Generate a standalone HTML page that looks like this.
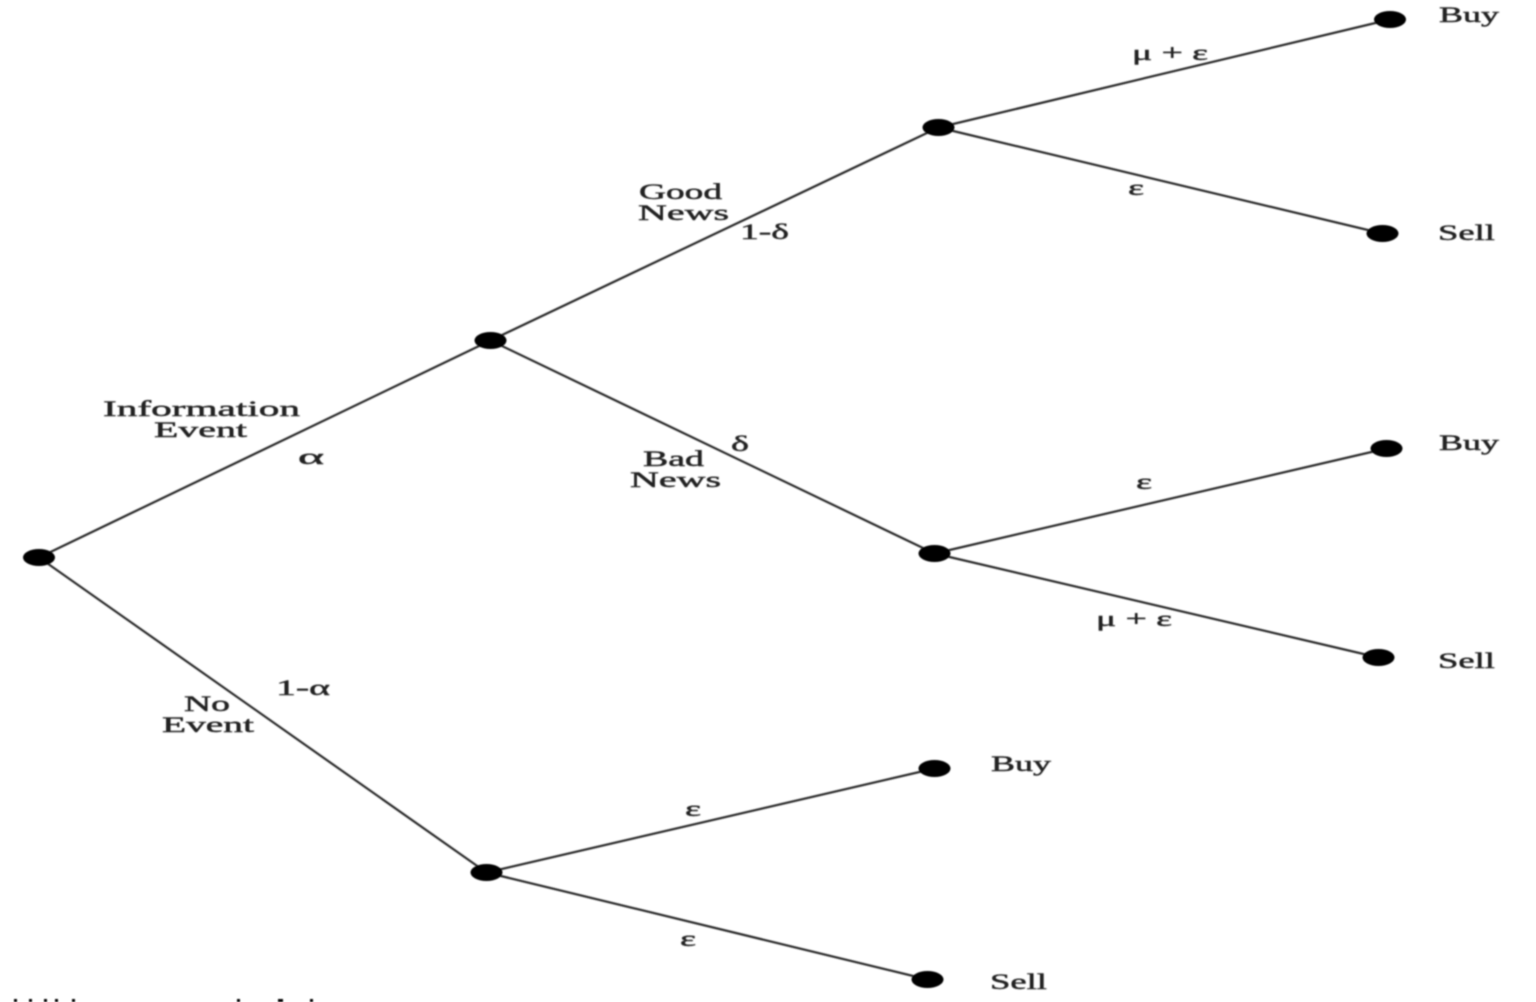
<!DOCTYPE html>
<html lang="en">
<head>
<meta charset="utf-8">
<title>Information event tree</title>
<style>
html,body{margin:0;padding:0;background:#fff;width:1536px;height:1002px;overflow:hidden}
svg{display:block}
text{font-family:"Liberation Serif","DejaVu Serif",serif;font-size:22px;fill:#222;font-weight:normal;stroke:#222;stroke-width:0.45px}
</style>
</head>
<body>
<svg width="1536" height="1002" viewBox="0 0 1536 1002" xmlns="http://www.w3.org/2000/svg">
<defs><filter id="b" x="-5%" y="-5%" width="110%" height="110%"><feGaussianBlur stdDeviation="0.8"/></filter></defs>
<g filter="url(#b)">
<g stroke="#2a2a2a" stroke-width="2.2" fill="none">
<line x1="39" y1="557.500" x2="490.500" y2="340.500"/>
<line x1="39" y1="557.500" x2="486.500" y2="872.500"/>
<line x1="490.500" y1="340.500" x2="938.500" y2="127.500"/>
<line x1="490.500" y1="340.500" x2="934.500" y2="553.500"/>
<line x1="938.500" y1="127.500" x2="1390" y2="19.500"/>
<line x1="938.500" y1="127.500" x2="1382.500" y2="233.500"/>
<line x1="934.500" y1="553.500" x2="1386.500" y2="448.500"/>
<line x1="934.500" y1="553.500" x2="1378.500" y2="657.500"/>
<line x1="486.500" y1="872.500" x2="934.500" y2="768.500"/>
<line x1="486.500" y1="872.500" x2="927.500" y2="979.500"/>
</g>
<g fill="#000">
<ellipse cx="39" cy="557.500" rx="16" ry="8.500"/>
<ellipse cx="490.500" cy="340.500" rx="16" ry="8.500"/>
<ellipse cx="486.500" cy="872.500" rx="16" ry="8.500"/>
<ellipse cx="938.500" cy="127.500" rx="16" ry="8.500"/>
<ellipse cx="934.500" cy="553.500" rx="16" ry="8.500"/>
<ellipse cx="934.500" cy="768.500" rx="16" ry="8.500"/>
<ellipse cx="927.500" cy="979.500" rx="16" ry="8.500"/>
<ellipse cx="1390" cy="19.500" rx="16" ry="8.500"/>
<ellipse cx="1382.500" cy="233.500" rx="16" ry="8.500"/>
<ellipse cx="1386.500" cy="448.500" rx="16" ry="8.500"/>
<ellipse cx="1378.500" cy="657.500" rx="16" ry="8.500"/>
<rect x="14" y="999" width="3" height="3"/><rect x="29" y="999" width="3" height="3"/>
<rect x="44" y="999" width="3" height="3"/><rect x="55" y="999" width="3" height="3"/>
<rect x="72" y="999" width="3" height="3"/><rect x="237" y="999" width="3" height="3"/>
<rect x="278" y="999" width="5" height="3"/><rect x="310" y="999" width="3" height="3"/>
</g>
<text x="103" y="416" textLength="197" lengthAdjust="spacingAndGlyphs">Information</text>
<text x="154" y="437" textLength="93" lengthAdjust="spacingAndGlyphs">Event</text>
<text x="298" y="464" textLength="26" lengthAdjust="spacingAndGlyphs">α</text>
<text x="639" y="199" textLength="83" lengthAdjust="spacingAndGlyphs">Good</text>
<text x="638" y="220" textLength="91" lengthAdjust="spacingAndGlyphs">News</text>
<text x="740" y="239" textLength="49" lengthAdjust="spacingAndGlyphs">1-δ</text>
<text x="643" y="466" textLength="61" lengthAdjust="spacingAndGlyphs">Bad</text>
<text x="630" y="487" textLength="91" lengthAdjust="spacingAndGlyphs">News</text>
<text x="731" y="451" textLength="18" lengthAdjust="spacingAndGlyphs">δ</text>
<text x="184" y="711" textLength="46" lengthAdjust="spacingAndGlyphs">No</text>
<text x="162" y="732" textLength="92" lengthAdjust="spacingAndGlyphs">Event</text>
<text x="276" y="695" textLength="54" lengthAdjust="spacingAndGlyphs">1-α</text>
<text x="1132" y="60" textLength="76" lengthAdjust="spacingAndGlyphs">μ + ε</text>
<text x="1128" y="195" textLength="16" lengthAdjust="spacingAndGlyphs">ε</text>
<text x="1136" y="489" textLength="16" lengthAdjust="spacingAndGlyphs">ε</text>
<text x="1096" y="626" textLength="76" lengthAdjust="spacingAndGlyphs">μ + ε</text>
<text x="685" y="816" textLength="16" lengthAdjust="spacingAndGlyphs">ε</text>
<text x="680" y="946" textLength="16" lengthAdjust="spacingAndGlyphs">ε</text>
<text x="1439" y="22" textLength="60" lengthAdjust="spacingAndGlyphs">Buy</text>
<text x="1438" y="240" textLength="57" lengthAdjust="spacingAndGlyphs">Sell</text>
<text x="1439" y="450" textLength="60" lengthAdjust="spacingAndGlyphs">Buy</text>
<text x="1438" y="668" textLength="57" lengthAdjust="spacingAndGlyphs">Sell</text>
<text x="991" y="771" textLength="60" lengthAdjust="spacingAndGlyphs">Buy</text>
<text x="990" y="989" textLength="57" lengthAdjust="spacingAndGlyphs">Sell</text>
</g>
</svg>
</body>
</html>
